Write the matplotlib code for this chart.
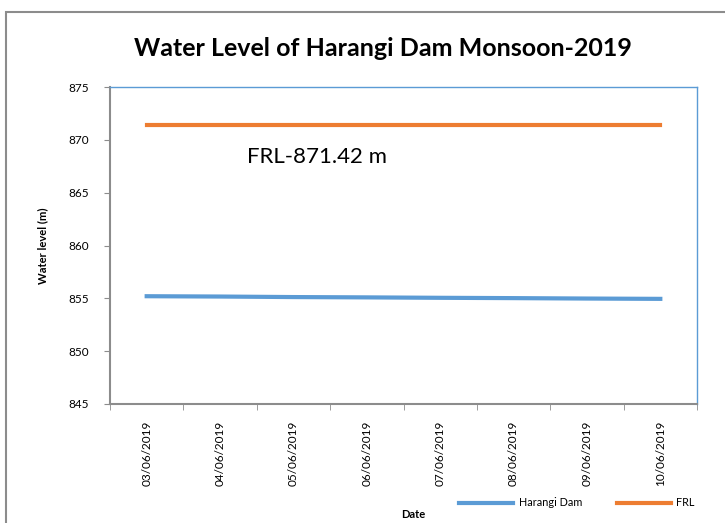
import matplotlib
matplotlib.use("Agg")
import matplotlib.pyplot as plt
from matplotlib.patches import Rectangle

dates = ["03/06/2019", "04/06/2019", "05/06/2019", "06/06/2019",
         "07/06/2019", "08/06/2019", "09/06/2019", "10/06/2019"]
harangi = [855.2, 855.17, 855.12, 855.09, 855.05, 855.02, 854.98, 854.95]
frl = [871.42] * 8
yticks = [845, 850, 855, 860, 865, 870, 875]

plt.rcParams['font.family'] = ['Lato', 'DejaVu Sans']

fig = plt.figure(figsize=(7.25, 5.23), dpi=100)
W, H = 725, 523
# outer chart border
fig.patches.append(Rectangle((6 / W, -0.01), 1.0, (H - 12) / H + 0.01, transform=fig.transFigure,
                             fill=False, edgecolor='#8c8c8c', linewidth=1.5))

ax = fig.add_axes([110 / W, 1 - 404 / H, (697 - 110) / W, (404 - 87) / H])
x = list(range(len(dates)))
ax.plot(x, harangi, color='#5B9BD5', linewidth=3, label='Harangi Dam')
ax.plot(x, frl, color='#ED7D31', linewidth=3, label='FRL')

ax.set_xlim(-0.5, len(dates) - 0.5)
ax.set_ylim(845, 875)
ax.set_yticks(yticks)
ax.set_xticks(x)
ax.set_xticklabels(dates, rotation=90, fontsize=8.5)
ax.tick_params(axis='x', length=0, pad=12)
ax.set_xticks([i - 0.5 for i in range(len(dates) + 1)], minor=True)
ax.tick_params(axis='x', which='minor', length=4, color='#8c8c8c', direction='out')
ax.tick_params(axis='y', labelsize=8.5, length=4, color='#8c8c8c', pad=11)

for s in ['top', 'right']:
    ax.spines[s].set_color('#5B9BD5')
    ax.spines[s].set_linewidth(1)
for s in ['left', 'bottom']:
    ax.spines[s].set_color('#8c8c8c')
    ax.spines[s].set_linewidth(1.5)

ax.set_ylabel('Water level (m)', fontsize=8, fontweight='bold', labelpad=15)
fig.text(413 / W, 1 - 515 / H, 'Date', fontsize=8, fontweight='bold', ha='center', va='center')

ax.text(1.37, 868.4, 'FRL-871.42 m', fontsize=16, ha='left', va='center')

fig.text(383 / W, 1 - 48 / H, 'Water Level of Harangi Dam Monsoon-2019', fontsize=18,
         fontweight='bold', ha='center', va='center')

ax.legend(loc='center', bbox_to_anchor=(577 / W, 1 - 503 / H), bbox_transform=fig.transFigure,
          ncol=2, frameon=False, fontsize=7.8, handlelength=5, columnspacing=3.2, handletextpad=0.5)

fig.savefig('out.png', dpi=100)
